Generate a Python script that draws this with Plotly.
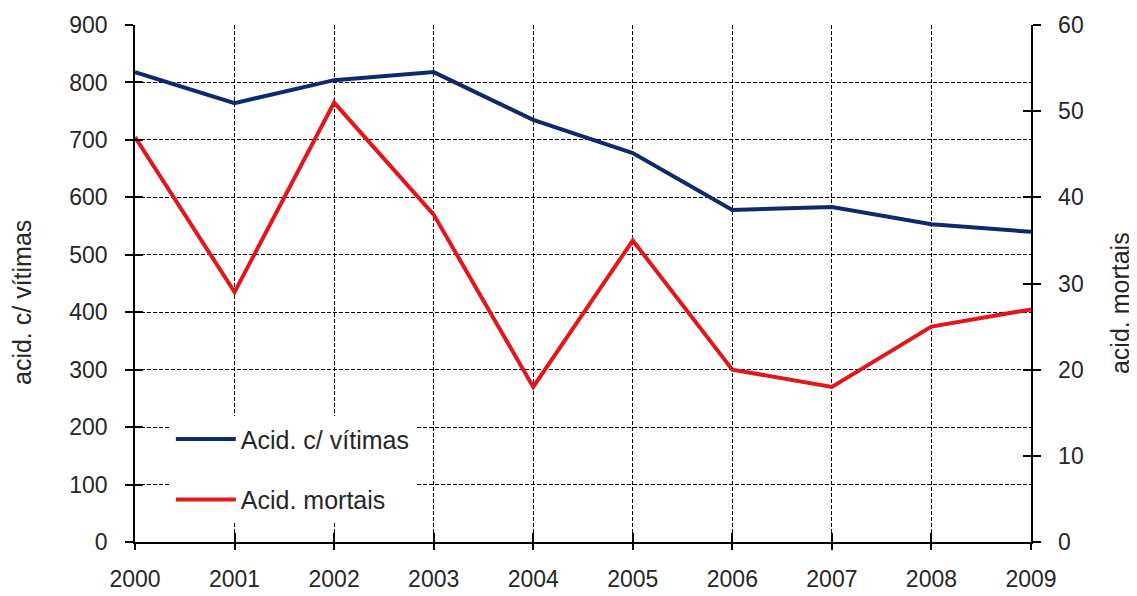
import plotly.graph_objects as go

years = [2000, 2001, 2002, 2003, 2004, 2005, 2006, 2007, 2008, 2009]
acid_vitimas = [818, 764, 804, 818, 735, 677, 578, 583, 553, 540]
acid_mortais = [47, 29, 51, 38, 18, 35, 20, 18, 25, 27]
left_title = "acid. c/ vítimas"
right_title = "acid. mortais"

FONT = "Liberation Sans, Arial, sans-serif"
TXT = "#262626"

fig = go.Figure()
fig.add_trace(go.Scatter(
    x=years, y=acid_vitimas, name="Acid. c/ vítimas", mode="lines",
    line=dict(color="#0f2a6a", width=4), yaxis="y", legendgroup="a",
))
fig.add_trace(go.Scatter(
    x=years, y=acid_mortais, name="Acid. mortais", mode="lines",
    line=dict(color="#e2171b", width=4), yaxis="y2", legendgroup="b",
))
# transparent carriers so the inner-tick overlay axes get drawn
fig.add_trace(go.Scatter(x=years, y=acid_vitimas, xaxis="x2", yaxis="y3",
                         mode="lines", line=dict(width=0), opacity=0,
                         showlegend=False, hoverinfo="skip"))
fig.add_trace(go.Scatter(x=years, y=acid_mortais, xaxis="x", yaxis="y4",
                         mode="lines", line=dict(width=0), opacity=0,
                         showlegend=False, hoverinfo="skip"))

grid = dict(showgrid=True, gridcolor="black", gridwidth=1, griddash="4px,2px")
inner_ticks = dict(ticks="inside", tickcolor="black", tickwidth=1.5,
                   showticklabels=False, showgrid=False, showline=False,
                   zeroline=False)

fig.update_layout(
    width=1129, height=588,
    margin=dict(l=127, r=106, t=17, b=54, autoexpand=False),
    paper_bgcolor="white", plot_bgcolor="white",
    font=dict(family=FONT, size=23, color=TXT),
    xaxis=dict(
        range=[2000, 2009], tickmode="array", tickvals=years,
        ticktext=[str(y) for y in years],
        showline=True, linecolor="black", linewidth=1.5,
        ticks="outside", ticklen=6, tickcolor="black", tickwidth=1.5,
        ticklabelstandoff=10, zeroline=False, **grid,
    ),
    xaxis2=dict(range=[2000, 2009], tickmode="array", tickvals=years,
                overlaying="x", side="bottom", anchor="y3", ticklen=9,
                **inner_ticks),
    yaxis=dict(
        range=[0, 900], dtick=100, tick0=0,
        showline=True, linecolor="black", linewidth=1.5,
        ticks="outside", ticklen=8, tickcolor="black", tickwidth=1.5,
        ticklabelstandoff=13, zeroline=False,
        **grid,
    ),
    yaxis2=dict(
        range=[0, 60], dtick=10, tick0=0, overlaying="y", side="right",
        showline=True, linecolor="black", linewidth=1.5,
        ticks="outside", ticklen=8, tickcolor="black", tickwidth=1.5,
        tickprefix="\u00a0\u00a0",
        showgrid=False, zeroline=False,
    ),
    yaxis3=dict(range=[0, 900], dtick=100, tick0=0, overlaying="y",
                side="left", anchor="x2", ticklen=8, **inner_ticks),
    yaxis4=dict(range=[0, 60], dtick=10, tick0=0, overlaying="y",
                side="right", anchor="x", ticklen=8, **inner_ticks),
    legend=dict(
        x=0.040, y=0.243, xanchor="left", yanchor="top",
        bgcolor="white", borderwidth=0,
        font=dict(family=FONT, size=25, color=TXT),
        traceorder="grouped", tracegroupgap=25, itemwidth=60,
    ),
    annotations=[
        dict(text=left_title, textangle=-90, xref="paper", yref="paper",
             x=-0.1261, y=0.4623, xanchor="center", yanchor="middle",
             showarrow=False, font=dict(family=FONT, size=25, color=TXT)),
        dict(text=right_title, textangle=-90, xref="paper", yref="paper",
             x=1.0994, y=0.4623, xanchor="center", yanchor="middle",
             showarrow=False, font=dict(family=FONT, size=25, color=TXT)),
    ],
)

fig.write_html("out.html")
